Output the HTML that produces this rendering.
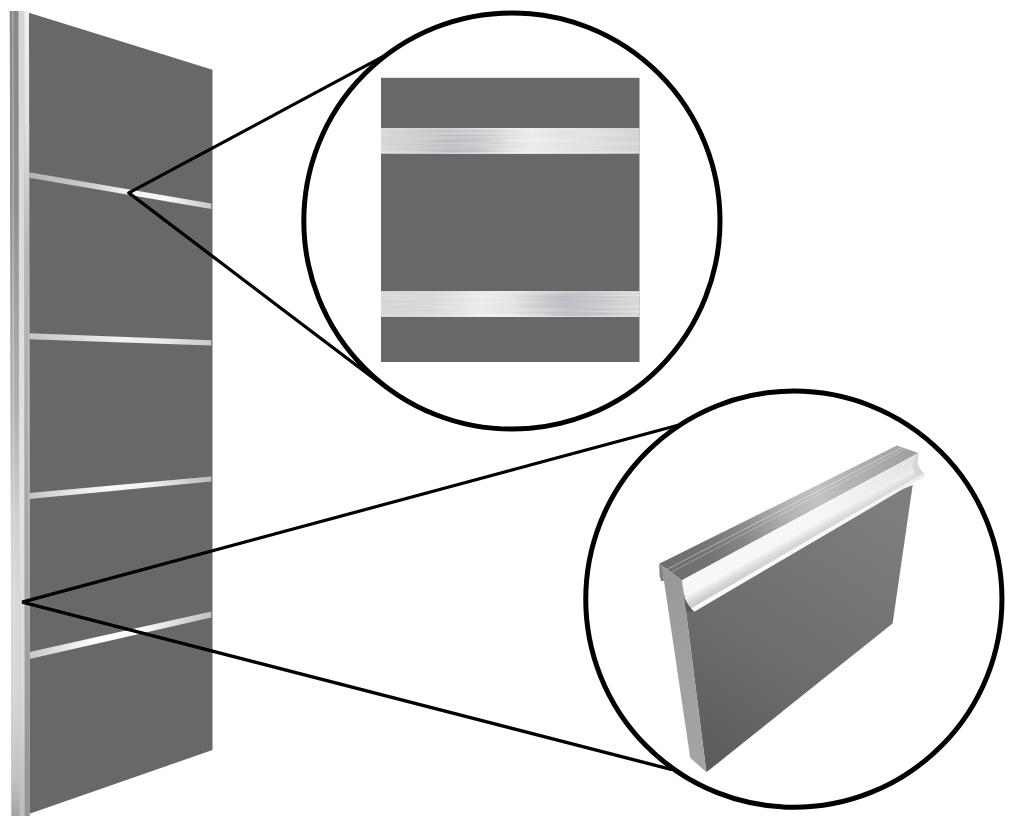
<!DOCTYPE html>
<html lang="en">
<head>
<meta charset="utf-8">
<title>Door handle profile detail</title>
<style>
html,body{margin:0;padding:0;background:#fff;}
body{width:1020px;height:827px;overflow:hidden;font-family:"Liberation Sans",sans-serif;}
svg{display:block;}
</style>
</head>
<body>
<svg width="1020" height="827" viewBox="0 0 1020 827">
<defs>
  <!-- door edge strip: three vertical bands, each shaded along its length -->
  <linearGradient id="bandA" gradientUnits="userSpaceOnUse" x1="0" y1="11" x2="0" y2="816">
    <stop offset="0" stop-color="#888888"/>
    <stop offset="0.235" stop-color="#8e8e8e"/>
    <stop offset="0.36" stop-color="#a2a2a2"/>
    <stop offset="0.495" stop-color="#b0b0b0"/>
    <stop offset="0.56" stop-color="#c0c0c0"/>
    <stop offset="0.63" stop-color="#d0d0d0"/>
    <stop offset="0.73" stop-color="#dadada"/>
    <stop offset="0.855" stop-color="#d6d6d6"/>
    <stop offset="0.955" stop-color="#c2c2c2"/>
    <stop offset="1" stop-color="#a4a4a4"/>
  </linearGradient>
  <linearGradient id="bandB" gradientUnits="userSpaceOnUse" x1="0" y1="11" x2="0" y2="816">
    <stop offset="0" stop-color="#d4d4d4"/>
    <stop offset="0.3" stop-color="#dcdcdc"/>
    <stop offset="0.6" stop-color="#e2e2e2"/>
    <stop offset="0.85" stop-color="#d8d8d8"/>
    <stop offset="1" stop-color="#bcbcbc"/>
  </linearGradient>
  <linearGradient id="bandC" gradientUnits="userSpaceOnUse" x1="0" y1="11" x2="0" y2="816">
    <stop offset="0" stop-color="#f0f0f0"/>
    <stop offset="0.15" stop-color="#e0e0e0"/>
    <stop offset="0.3" stop-color="#b8b8b8"/>
    <stop offset="0.5" stop-color="#acacac"/>
    <stop offset="0.8" stop-color="#a0a0a0"/>
    <stop offset="1" stop-color="#949494"/>
  </linearGradient>
  <linearGradient id="thinHi" gradientUnits="userSpaceOnUse" x1="0" y1="11" x2="0" y2="816">
    <stop offset="0" stop-color="#ffffff" stop-opacity="0.25"/>
    <stop offset="0.5" stop-color="#ffffff" stop-opacity="0.35"/>
    <stop offset="0.7" stop-color="#ffffff" stop-opacity="0.1"/>
    <stop offset="1" stop-color="#ffffff" stop-opacity="0"/>
  </linearGradient>
  <linearGradient id="thinHi2" gradientUnits="userSpaceOnUse" x1="0" y1="11" x2="0" y2="816">
    <stop offset="0" stop-color="#ffffff" stop-opacity="0"/>
    <stop offset="0.3" stop-color="#ffffff" stop-opacity="0"/>
    <stop offset="0.5" stop-color="#ffffff" stop-opacity="0.4"/>
    <stop offset="0.7" stop-color="#ffffff" stop-opacity="0.2"/>
    <stop offset="0.8" stop-color="#ffffff" stop-opacity="0"/>
    <stop offset="1" stop-color="#ffffff" stop-opacity="0"/>
  </linearGradient>
  <clipPath id="stripClip"><polygon points="9.8,11 29,11 29.7,816 11.5,816"/></clipPath>
  <filter id="soft" x="-20%" y="-5%" width="140%" height="110%"><feGaussianBlur stdDeviation="0.6 0"/></filter>

  <filter id="brush" x="0" y="0" width="100%" height="100%" color-interpolation-filters="sRGB">
    <feTurbulence type="fractalNoise" baseFrequency="0.012 0.55" numOctaves="2" seed="7" result="n"/>
    <feColorMatrix in="n" type="matrix" values="0 0 0 0 1  0 0 0 0 1  0 0 0 0 1  1.6 0 0 0 -0.62"/>
  </filter>
  <linearGradient id="edgeHi" x1="0" y1="0" x2="1" y2="0">
    <stop offset="0" stop-color="#ffffff" stop-opacity="0.15"/>
    <stop offset="0.5" stop-color="#ffffff" stop-opacity="0.7"/>
    <stop offset="1" stop-color="#ffffff" stop-opacity="0.15"/>
  </linearGradient>
  <linearGradient id="st1" x1="0" y1="0" x2="1" y2="0">
    <stop offset="0" stop-color="#b4b4b4"/>
    <stop offset="0.3" stop-color="#c8c8c8"/>
    <stop offset="0.55" stop-color="#f4f4f4"/>
    <stop offset="0.75" stop-color="#fafafa"/>
    <stop offset="1" stop-color="#c8c8c8"/>
  </linearGradient>
  <linearGradient id="st2" x1="0" y1="0" x2="1" y2="0">
    <stop offset="0" stop-color="#c4c4c4"/>
    <stop offset="0.3" stop-color="#dedede"/>
    <stop offset="0.5" stop-color="#f2f2f2"/>
    <stop offset="0.72" stop-color="#eaeaea"/>
    <stop offset="1" stop-color="#cacaca"/>
  </linearGradient>
  <linearGradient id="st3" x1="0" y1="0" x2="1" y2="0">
    <stop offset="0" stop-color="#c4c4c4"/>
    <stop offset="0.25" stop-color="#e8e8e8"/>
    <stop offset="0.45" stop-color="#fafafa"/>
    <stop offset="0.65" stop-color="#f0f0f0"/>
    <stop offset="1" stop-color="#bcbcbc"/>
  </linearGradient>
  <linearGradient id="st4" x1="0" y1="0" x2="1" y2="0">
    <stop offset="0" stop-color="#c8c8c8"/>
    <stop offset="0.2" stop-color="#e6e6e6"/>
    <stop offset="0.35" stop-color="#ffffff"/>
    <stop offset="0.6" stop-color="#ffffff"/>
    <stop offset="0.75" stop-color="#e6e6e6"/>
    <stop offset="1" stop-color="#c0c0c0"/>
  </linearGradient>
  <linearGradient id="zs1" x1="0" y1="0" x2="1" y2="0">
    <stop offset="0" stop-color="#d6d6d6"/>
    <stop offset="0.11" stop-color="#cdcdce"/>
    <stop offset="0.27" stop-color="#b9bcc0"/>
    <stop offset="0.38" stop-color="#c4c6c9"/>
    <stop offset="0.5" stop-color="#e0e0e0"/>
    <stop offset="0.58" stop-color="#ebebeb"/>
    <stop offset="0.69" stop-color="#e4e4e4"/>
    <stop offset="0.85" stop-color="#dcdcdc"/>
    <stop offset="1" stop-color="#d0d2d2"/>
  </linearGradient>
  <linearGradient id="zs2" x1="0" y1="0" x2="1" y2="0">
    <stop offset="0" stop-color="#d4d4d4"/>
    <stop offset="0.19" stop-color="#d6d6d6"/>
    <stop offset="0.3" stop-color="#e0e0e0"/>
    <stop offset="0.38" stop-color="#eaeaea"/>
    <stop offset="0.5" stop-color="#e4e4e4"/>
    <stop offset="0.58" stop-color="#d0d2d4"/>
    <stop offset="0.71" stop-color="#b9bcc0"/>
    <stop offset="0.85" stop-color="#c4c6c9"/>
    <stop offset="1" stop-color="#d6d6d6"/>
  </linearGradient>
  <linearGradient id="pFace" gradientUnits="userSpaceOnUse" x1="890" y1="500" x2="720" y2="770">
    <stop offset="0" stop-color="#7e7e7e"/>
    <stop offset="0.3" stop-color="#767676"/>
    <stop offset="0.6" stop-color="#6d6d6d"/>
    <stop offset="1" stop-color="#5c5c5c"/>
  </linearGradient>
  <linearGradient id="pSide" gradientUnits="userSpaceOnUse" x1="662" y1="570" x2="700" y2="770">
    <stop offset="0" stop-color="#989898"/>
    <stop offset="0.5" stop-color="#a0a0a0"/>
    <stop offset="1" stop-color="#a4a4a4"/>
  </linearGradient>
  <linearGradient id="hTop" gradientUnits="userSpaceOnUse" x1="670" y1="570" x2="905" y2="450">
    <stop offset="0" stop-color="#6e6e6e"/>
    <stop offset="0.15" stop-color="#747474"/>
    <stop offset="0.3" stop-color="#868686"/>
    <stop offset="0.4" stop-color="#9e9e9e"/>
    <stop offset="0.5" stop-color="#b4b4b4"/>
    <stop offset="0.62" stop-color="#c2c2c2"/>
    <stop offset="0.77" stop-color="#b2b2b2"/>
    <stop offset="1" stop-color="#a2a2a2"/>
  </linearGradient>
  <filter id="soft2" x="-10%" y="-10%" width="120%" height="120%"><feGaussianBlur stdDeviation="1.2"/></filter>
  <filter id="soft4" x="-30%" y="-30%" width="160%" height="160%"><feGaussianBlur stdDeviation="1"/></filter>
  <linearGradient id="lipBase" gradientUnits="userSpaceOnUse" x1="690" y1="600" x2="920" y2="470">
    <stop offset="0" stop-color="#f8f8f8"/>
    <stop offset="0.6" stop-color="#f6f6f6"/>
    <stop offset="0.85" stop-color="#ececec"/>
    <stop offset="1" stop-color="#e2e2e2"/>
  </linearGradient>
  <linearGradient id="lipHi" gradientUnits="userSpaceOnUse" x1="690" y1="600" x2="920" y2="470">
    <stop offset="0" stop-color="#fbfbfb"/>
    <stop offset="0.7" stop-color="#f8f8f8"/>
    <stop offset="1" stop-color="#ececec"/>
  </linearGradient>
  <filter id="soft3" x="-10%" y="-10%" width="120%" height="120%"><feGaussianBlur stdDeviation="0.5"/></filter>
  <linearGradient id="lipFade" gradientUnits="userSpaceOnUse" x1="690" y1="600" x2="920" y2="470">
    <stop offset="0" stop-color="#ffffff" stop-opacity="0"/>
    <stop offset="0.4" stop-color="#ffffff" stop-opacity="0.15"/>
    <stop offset="1" stop-color="#ffffff" stop-opacity="0.3"/>
  </linearGradient>
  <linearGradient id="lipBand" gradientUnits="userSpaceOnUse" x1="690" y1="600" x2="920" y2="470">
    <stop offset="0" stop-color="#cccccc"/>
    <stop offset="0.5" stop-color="#d6d6d6"/>
    <stop offset="1" stop-color="#e6e6e6"/>
  </linearGradient>
  <!-- lip shading runs across the lip (perpendicular to its length) -->
  <linearGradient id="hLip" gradientUnits="userSpaceOnUse" x1="800" y1="515" x2="816" y2="545">
    <stop offset="0" stop-color="#fbfbfb"/>
    <stop offset="0.35" stop-color="#f2f2f2"/>
    <stop offset="0.62" stop-color="#d6d6d6"/>
    <stop offset="0.8" stop-color="#e0e0e0"/>
    <stop offset="0.9" stop-color="#f6f6f6"/>
    <stop offset="1" stop-color="#f0f0f0"/>
  </linearGradient>
</defs>

<rect width="1020" height="827" fill="#ffffff"/>

<!-- door panel -->
<polygon points="29,12.7 212.5,69.8 212.5,750 29.5,813.8" fill="#686868"/>
<!-- stripes on door -->
<polygon points="29,172.3 211.3,203.6 211.3,208.9 29,177.8" fill="url(#st1)"/>
<polygon points="29,333.2 211.3,340.2 211.3,345.4 29,339.2" fill="url(#st2)"/>
<polygon points="29,493 211.3,476.4 211.3,481.6 29,499" fill="url(#st3)"/>
<polygon points="29.5,652 211.3,611.5 211.3,617.6 29.5,658.9" fill="url(#st4)"/>
<!-- door metal edge -->
<g clip-path="url(#stripClip)">
  <rect x="5" y="5" width="30" height="820" fill="#b0b0b0"/>
  <g filter="url(#soft)">
    <polygon points="6,5 18.6,5 19.6,820 6,820" fill="url(#bandA)"/>
    <polygon points="18.6,5 24.2,5 24.8,820 19.6,820" fill="url(#bandB)"/>
    <polygon points="24.2,5 34,5 34,820 24.8,820" fill="url(#bandC)"/>
    <polygon points="12,5 13.6,5 14.6,820 13.4,820" fill="url(#thinHi)"/>
    <polygon points="27.8,5 29.2,5 29.8,820 28.6,820" fill="url(#thinHi2)"/>
  </g>
</g>

<!-- zoom circle 1 -->
<rect x="381" y="77.8" width="258.5" height="284.2" fill="#686868"/>
<rect x="381" y="128.1" width="258.5" height="25.6" fill="url(#zs1)"/>
<rect x="381" y="291.2" width="258.5" height="25.7" fill="url(#zs2)"/>
<g opacity="0.5">
  <rect x="381" y="128.1" width="258.5" height="25.6" filter="url(#brush)"/>
  <rect x="381" y="291.2" width="258.5" height="25.7" filter="url(#brush)"/>
</g>
<rect x="381" y="128.1" width="258.5" height="1.2" fill="url(#edgeHi)"/>
<rect x="381" y="152.5" width="258.5" height="1.2" fill="url(#edgeHi)"/>
<rect x="381" y="291.2" width="258.5" height="1.2" fill="url(#edgeHi)"/>
<rect x="381" y="315.7" width="258.5" height="1.2" fill="url(#edgeHi)"/>
<circle cx="511.9" cy="221.0" r="208.1" fill="none" stroke="#000" stroke-width="5"/>

<!-- handle detail in circle 2 -->
<polygon points="682,580.2 912.7,485 892.6,623.5 706.4,772.2" fill="url(#pFace)"/>
<polygon points="661.8,566 682,580.2 706.4,772.2 690.2,757.8" fill="url(#pSide)"/>
<polygon points="659.2,564 662.2,566.2 664,581 661,581 660.2,577.5 659.6,577" fill="#808080"/>
<polygon points="684.3,598 694,611.6 686,610.5" fill="#585858"/>
<polygon points="659.1,563.8 896.85,445.6 918.6,452.9 682,580.2" fill="url(#hTop)"/>
<polyline points="667.2,569.2 902.3,447.4" fill="none" stroke="#ffffff" stroke-opacity="0.42" stroke-width="1"/>
<polyline points="671.2,572.2 906.0,448.7" fill="none" stroke="#ffffff" stroke-opacity="0.3" stroke-width="1"/>
<clipPath id="lipClip"><path d="M682,580.2 L918.6,452.9 L917.6,463 Q919,469 924.8,474.3 L924,476.6 L694.4,611.4 Q688,606 685,598 Q683,590 682,580.2 Z"/></clipPath>
<g clip-path="url(#lipClip)">
  <rect x="650" y="440" width="290" height="190" fill="url(#lipBase)"/>
  <g filter="url(#soft2)">
    <polygon points="681.5,600.4 928.4,461.3 928.9,463.6 682.7,603.5" fill="#e8e8e8"/>
    <polygon points="682.7,603.5 928.9,463.6 929.4,466.0 684.0,606.6" fill="#dadada"/>
    <polygon points="684.0,606.6 929.4,466.0 929.8,467.9 685.0,609.2" fill="#cecece"/>
    <polygon points="685.0,609.2 929.8,467.9 930.4,470.2 686.3,612.3" fill="#c8c8c8"/>
    <polygon points="680.6,598.2 928.0,459.6 930.4,470.2 686.3,612.3" fill="url(#lipFade)"/>
  </g>
  <polygon points="919.5,452 926,456 926,478 917,481 913,468 914.5,456" fill="#d6d6d6" filter="url(#soft4)"/>
  <polygon points="685.9,611.4 930.2,469.5 931.9,477.3 690.0,621.7" fill="url(#lipHi)" filter="url(#soft3)"/>
</g>
<circle cx="793.85" cy="599.2" r="208.1" fill="none" stroke="#000" stroke-width="5"/>

<!-- leader lines -->
<polyline points="391.2,52.2 128.8,192.9 385.7,387.5" fill="none" stroke="#000" stroke-width="3.2" stroke-linejoin="round"/>
<polyline points="678,425.2 22.2,602.1 672,769.6" fill="none" stroke="#000" stroke-width="3.2" stroke-linejoin="bevel"/>
</svg>
</body>
</html>
